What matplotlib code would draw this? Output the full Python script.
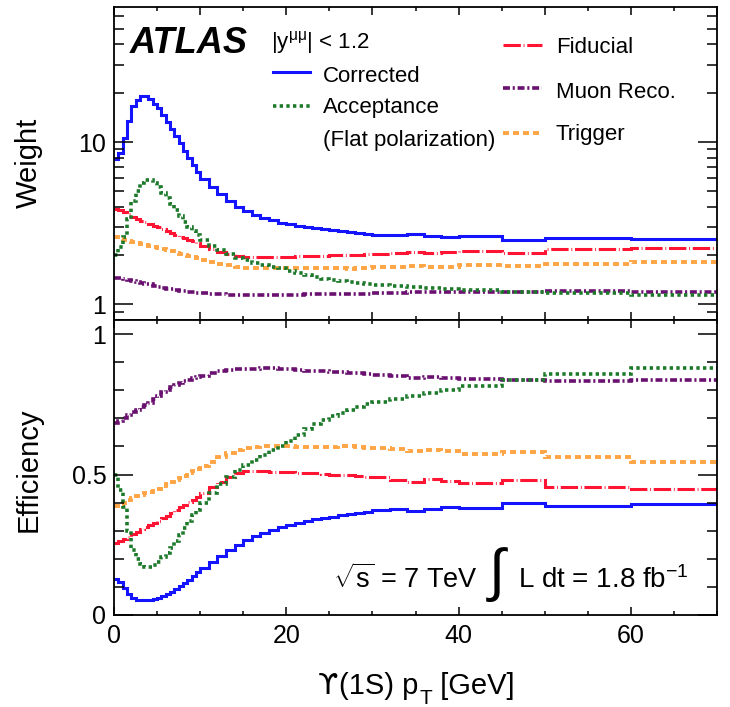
import numpy as np
import matplotlib
matplotlib.use("Agg")
import matplotlib.pyplot as plt
from matplotlib.ticker import FixedLocator, FixedFormatter, MultipleLocator, LogLocator, NullFormatter
from matplotlib.lines import Line2D

plt.rcParams['font.family'] = ['Liberation Sans', 'DejaVu Sans']
plt.rcParams['mathtext.fontset'] = 'custom'
plt.rcParams['mathtext.rm'] = 'Liberation Sans'
plt.rcParams['mathtext.it'] = 'Liberation Sans:italic'
plt.rcParams['mathtext.bf'] = 'Liberation Sans:bold'
plt.rcParams['lines.scale_dashes'] = False

# ---------------- data ----------------
pt_edges = [0, 0.5, 1, 1.5, 2, 2.5, 3, 3.5, 4, 4.5, 5, 5.5, 6, 6.5, 7, 7.5, 8, 8.5, 9, 9.5,
            10, 11, 12, 13, 14, 15, 16, 17, 18, 19, 20, 21, 22, 23, 24, 25, 26, 27, 28, 29,
            30, 32, 34, 36, 38, 40, 45, 50, 60, 70]

eff_corrected = [0.127, 0.116, 0.095, 0.074, 0.060, 0.055, 0.052, 0.052, 0.054, 0.058,
                 0.062, 0.068, 0.075, 0.083, 0.092, 0.102, 0.113, 0.125, 0.138, 0.152,
                 0.168, 0.190, 0.210, 0.232, 0.250, 0.266, 0.280, 0.293, 0.304, 0.314,
                 0.322, 0.328, 0.334, 0.340, 0.345, 0.350, 0.355, 0.359, 0.363, 0.367,
                 0.372, 0.376, 0.370, 0.377, 0.383, 0.380, 0.400, 0.388, 0.394]

eff_acceptance = [0.500, 0.445, 0.385, 0.300, 0.231, 0.200, 0.180, 0.172, 0.172, 0.178,
                  0.190, 0.205, 0.220, 0.240, 0.262, 0.285, 0.310, 0.335, 0.355, 0.372,
                  0.400, 0.435, 0.465, 0.492, 0.515, 0.535, 0.553, 0.570, 0.586, 0.600,
                  0.620, 0.641, 0.661, 0.679, 0.694, 0.707, 0.719, 0.731, 0.741, 0.750,
                  0.758, 0.769, 0.779, 0.789, 0.800, 0.815, 0.836, 0.858, 0.878]

eff_fiducial = [0.258, 0.262, 0.270, 0.278, 0.288, 0.297, 0.305, 0.312, 0.320, 0.328,
                0.336, 0.344, 0.352, 0.362, 0.372, 0.383, 0.393, 0.402, 0.410, 0.420,
                0.435, 0.455, 0.474, 0.490, 0.505, 0.512, 0.512, 0.512, 0.510, 0.508,
                0.508, 0.506, 0.504, 0.504, 0.502, 0.500, 0.498, 0.498, 0.494, 0.492,
                0.490, 0.482, 0.475, 0.483, 0.478, 0.469, 0.480, 0.457, 0.447]

eff_muon_reco = [0.685, 0.690, 0.700, 0.712, 0.722, 0.730, 0.740, 0.748, 0.755, 0.768,
                 0.780, 0.792, 0.800, 0.810, 0.818, 0.825, 0.832, 0.837, 0.842, 0.847,
                 0.852, 0.862, 0.868, 0.872, 0.874, 0.876, 0.877, 0.878, 0.878, 0.877,
                 0.875, 0.872, 0.870, 0.869, 0.867, 0.866, 0.864, 0.862, 0.861, 0.859,
                 0.856, 0.851, 0.842, 0.846, 0.845, 0.839, 0.838, 0.832, 0.838]

eff_trigger = [0.387, 0.395, 0.400, 0.408, 0.415, 0.422, 0.428, 0.433, 0.438, 0.443,
               0.450, 0.458, 0.465, 0.472, 0.480, 0.488, 0.496, 0.504, 0.512, 0.520,
               0.530, 0.546, 0.561, 0.575, 0.586, 0.594, 0.598, 0.600, 0.601, 0.600,
               0.600, 0.598, 0.597, 0.597, 0.598, 0.598, 0.600, 0.602, 0.598, 0.595,
               0.593, 0.590, 0.582, 0.587, 0.585, 0.573, 0.581, 0.561, 0.546]

series_names = ["Corrected", "Acceptance", "Fiducial", "Muon Reco.", "Trigger"]
efficiencies = [eff_corrected, eff_acceptance, eff_fiducial, eff_muon_reco, eff_trigger]

x_ticks = [0, 20, 40, 60]
x_ticklabels = ["0", "20", "40", "60"]
w_ticks = [1, 10]
w_ticklabels = ["1", "10"]
e_ticks = [0, 0.5, 1]
e_ticklabels = ["0", "0.5", "1"]

# ---------------- styles ----------------
styles = {
    "Corrected": dict(color='#1414ff', linestyle='-', linewidth=2.2),
    "Acceptance": dict(color='#1c7a2a', linestyle=(0, (2.4, 2.4)), linewidth=2.6),
    "Fiducial": dict(color='#ff1433', linestyle=(0, (12.5, 2.0, 0.6, 2.0)), linewidth=2.2),
    "Muon Reco.": dict(color='#6a1070', linestyle=(0, (5, 2, 1.5, 2)), linewidth=2.6),
    "Trigger": dict(color='#ffa545', linestyle=(0, (4.3, 2.9)), linewidth=2.8),
}
draw_order = ["Corrected", "Fiducial", "Muon Reco.", "Trigger", "Acceptance"]

W, H = 730, 707
fig = plt.figure(figsize=(W / 100, H / 100), dpi=100)


def fx(x):
    return x / W


def fy(y):
    return 1 - y / H


L, R = 114, 717
T1, B1 = 7, 320
T2, B2 = 320, 615
ax1 = fig.add_axes([fx(L), fy(B1), (R - L) / W, (B1 - T1) / H])
ax2 = fig.add_axes([fx(L), fy(B2), (R - L) / W, (B2 - T2) / H])

edges = np.array(pt_edges, dtype=float)
for name in draw_order:
    eff = np.array(efficiencies[series_names.index(name)], dtype=float)
    weight = 1.0 / eff  # weight is the inverse of the efficiency
    ax1.stairs(weight, edges, baseline=None, fill=False, **styles[name])
    ax2.stairs(eff, edges, baseline=None, fill=False, **styles[name])

# ---------------- axes ----------------
for ax in (ax1, ax2):
    ax.set_xlim(0, 70)
    for s in ax.spines.values():
        s.set_linewidth(1.3)
    ax.tick_params(which='both', direction='in', top=True, right=True, width=1.1,
                   labelsize=18, colors='black')
    ax.tick_params(axis='y', which='major', length=14, pad=5.5)
    ax.tick_params(axis='y', which='minor', length=7)
    ax.tick_params(axis='x', which='major', length=6, pad=6.5)
    ax.tick_params(axis='x', which='minor', length=3)

ax1.set_yscale('log')
ax1.set_ylim(0.8, 68)
ax1.yaxis.set_major_locator(FixedLocator(w_ticks))
ax1.yaxis.set_major_formatter(FixedFormatter(w_ticklabels))
ax1.yaxis.set_minor_locator(LogLocator(base=10, subs=np.arange(2, 10)))
ax1.yaxis.set_minor_formatter(NullFormatter())
ax1.xaxis.set_major_locator(MultipleLocator(10))
ax1.xaxis.set_minor_locator(MultipleLocator(5))
ax1.tick_params(axis='x', labelbottom=False)

ax2.set_ylim(0, 1.05)
ax2.yaxis.set_major_locator(FixedLocator(e_ticks))
ax2.yaxis.set_major_formatter(FixedFormatter(e_ticklabels))
ax2.yaxis.set_minor_locator(MultipleLocator(0.1))
ax2.xaxis.set_major_locator(FixedLocator(x_ticks))
ax2.xaxis.set_major_formatter(FixedFormatter(x_ticklabels))
ax2.xaxis.set_minor_locator(MultipleLocator(5))

# axis titles
fig.text(fx(29), fy(163), "Weight", rotation=90, ha='center', va='center', fontsize=21)
fig.text(fx(29), fy(470), "Efficiency", rotation=90, ha='center', va='center', fontsize=21)

renderer = fig.canvas.get_renderer()
t0 = fig.text(fx(318), fy(694), "ϒ", fontsize=21, family='DejaVu Sans',
              ha='left', va='baseline')
bb0 = t0.get_window_extent(renderer)
t1 = fig.text((bb0.x1 + 1) / W, fy(694), "(1S) p", fontsize=21, ha='left', va='baseline')
bb = t1.get_window_extent(renderer)
t2 = fig.text((bb.x1 + 1) / W, fy(704), "T", fontsize=15, ha='left', va='baseline')
bb2 = t2.get_window_extent(renderer)
fig.text(bb2.x1 / W, fy(694), " [GeV]", fontsize=21, ha='left', va='baseline')

# ---------------- annotations ----------------
fig.text(fx(130), fy(53), "ATLAS", fontsize=26, fontweight='bold', fontstyle='italic',
         ha='left', va='baseline')
fig.text(fx(271), fy(48), r"$\mathregular{|y^{\mu\mu}|}$ < 1.2", fontsize=16,
         ha='left', va='baseline')

legend_left = [("Corrected", 72, 82), ("Acceptance", 106, 113)]
for name, ly, by in legend_left:
    fig.add_artist(Line2D([fx(273), fx(310)], [fy(ly), fy(ly)], transform=fig.transFigure,
                          **styles[name]))
    fig.text(fx(323), fy(by), name, fontsize=16, ha='left', va='baseline')
fig.text(fx(323), fy(146), "(Flat polarization)", fontsize=16, ha='left', va='baseline')

legend_right = [("Fiducial", 45, 53), ("Muon Reco.", 88, 98), ("Trigger", 133, 140)]
for name, ly, by in legend_right:
    fig.add_artist(Line2D([fx(503), fx(542)], [fy(ly), fy(ly)], transform=fig.transFigure,
                          **styles[name]))
    fig.text(fx(556), fy(by), name, fontsize=16, ha='left', va='baseline')

fig.text(fx(333), fy(588), r"$\sqrt{\mathregular{s}}$ = 7 TeV", fontsize=19.5,
         ha='left', va='baseline')
fig.text(fx(497), fy(575), "∫", fontsize=42, ha='center', va='center')
fig.text(fx(518), fy(588), r"L dt = 1.8 fb$^{\mathregular{-1}}$", fontsize=20,
         ha='left', va='baseline')

fig.savefig("out.png", dpi=100)
